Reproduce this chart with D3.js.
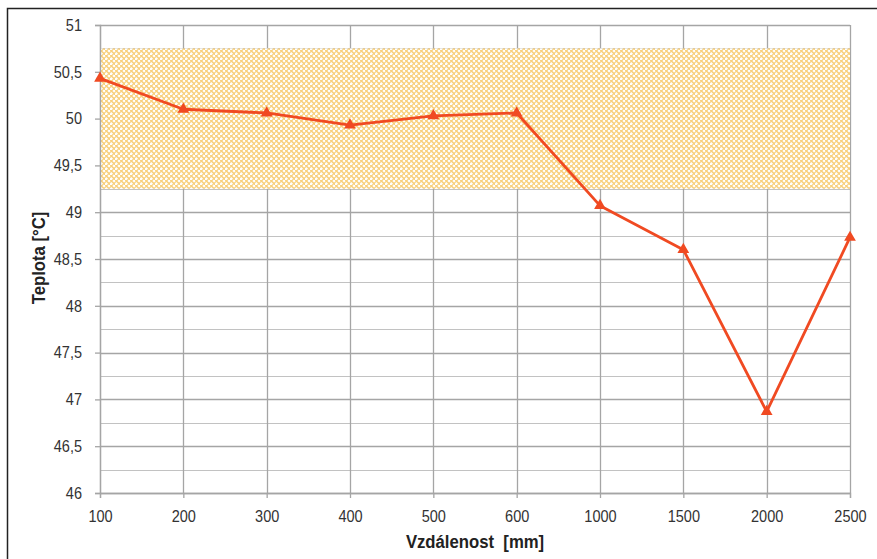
<!DOCTYPE html>
<html><head><meta charset="utf-8">
<script src="https://cdn.jsdelivr.net/npm/d3@7"></script>
<style>body{margin:0;background:#fff;}svg{display:block;font-family:"Liberation Sans",Arial,sans-serif;}</style>
</head><body>
<svg id="c" width="877" height="559"></svg>
<script>
const categories = ["100","200","300","400","500","600","1000","1500","2000","2500"];
const temperatures = [50.43, 50.10, 50.06, 49.93, 50.03, 50.06, 49.07, 48.60, 46.87, 48.73];
const yTicks = [46, 46.5, 47, 47.5, 48, 48.5, 49, 49.5, 50, 50.5, 51];
const yMinorTicks = [46.25, 46.75, 47.25, 47.75, 48.25, 48.75, 49.25, 49.75, 50.25, 50.75];
const band = [49.25, 50.75];
const xTitle = "Vzdálenost\u00a0\u00a0[mm]";
const yTitle = "Teplota [°C]";

const svg = d3.select("#c");
const m = {l:100, r:27, t:25, b:66};
const W = 877, H = 559;
const SX = 0.88;
const x = d3.scalePoint().domain(categories).range([m.l, W - m.r]).padding(0);
const y = d3.scaleLinear().domain([46, 51]).range([H - m.b, m.t]);

// outer frame
svg.append("rect").attr("x",7.5).attr("y",8.5).attr("width",880).attr("height",560)
  .attr("fill","none").attr("stroke","#222").attr("stroke-width",1.5);

const defs = svg.append("defs");
const pat = defs.append("pattern").attr("id","hatch").attr("patternUnits","userSpaceOnUse")
  .attr("width",5).attr("height",5);
pat.append("rect").attr("width",5).attr("height",5).attr("fill","#f8d07c");
pat.append("path").attr("d","M-1,6 L6,-1 M-3.5,3.5 L3.5,-3.5 M1.5,8.5 L8.5,1.5")
  .attr("stroke","#ffffff").attr("stroke-width",2.4).attr("stroke-dasharray","4.5,1.5");

const gridColor = "#a5a5a5";
svg.append("g").selectAll("line").data(yMinorTicks).join("line")
  .attr("x1",m.l).attr("x2",W-m.r).attr("y1",d=>Math.round(y(d))+0.5).attr("y2",d=>Math.round(y(d))+0.5)
  .attr("stroke","#c2c2c2").attr("stroke-width",1.2);
svg.append("g").selectAll("line").data(yTicks).join("line")
  .attr("x1",m.l).attr("x2",W-m.r).attr("y1",d=>Math.round(y(d))+0.5).attr("y2",d=>Math.round(y(d))+0.5)
  .attr("stroke",gridColor).attr("stroke-width",1.3);
svg.append("g").selectAll("line").data(categories).join("line")
  .attr("x1",d=>Math.round(x(d))+0.5).attr("x2",d=>Math.round(x(d))+0.5).attr("y1",m.t).attr("y2",H-m.b)
  .attr("stroke",gridColor).attr("stroke-width",1.3);

// band
svg.append("rect").attr("x",m.l).attr("width",W-m.r-m.l)
  .attr("y",y(band[1])).attr("height",y(band[0])-y(band[1]))
  .attr("fill","url(#hatch)");

// axes
const yAxis = svg.append("g").attr("transform",`translate(${m.l},0)`)
  .call(d3.axisLeft(y).tickValues(yTicks).tickSize(5).tickPadding(13)
    .tickFormat(d=>String(d).replace(".",",")));
const xAxis = svg.append("g").attr("transform",`translate(0,${H-m.b})`)
  .call(d3.axisBottom(x).tickSize(5).tickPadding(12));
[yAxis,xAxis].forEach(g=>{
  g.select(".domain").attr("stroke",gridColor).attr("stroke-width",1.3);
  g.selectAll(".tick line").attr("stroke",gridColor).attr("stroke-width",1.3);
  g.selectAll("text").attr("fill","#333").style("font-size","16.5px").style("font-family","'Liberation Sans',Arial,sans-serif");
});
yAxis.selectAll(".tick text").attr("x",-18/SX).attr("transform",`scale(${SX},1)`);
xAxis.selectAll(".tick text").attr("transform",`scale(${SX},1)`);

// line
const line = d3.line().x((d,i)=>x(categories[i])).y(d=>y(d));
svg.append("path").datum(temperatures).attr("d",line)
  .attr("fill","none").attr("stroke","#f04a22").attr("stroke-width",2.8).attr("stroke-linejoin","round");
svg.append("g").selectAll("path").data(temperatures).join("path")
  .attr("transform",(d,i)=>`translate(${x(categories[i])},${y(d)})`)
  .attr("d",d3.symbol().type(d3.symbolTriangle).size(60))
  .attr("fill","#f04a22");

// titles
svg.append("text").attr("transform",`translate(475,548) scale(${SX},1)`).attr("text-anchor","middle")
  .style("font-weight","bold").style("font-size","19px").attr("fill","#222").text(xTitle);
svg.append("text").attr("transform",`translate(45,258) rotate(-90) scale(${SX},1)`).attr("text-anchor","middle")
  .style("font-weight","bold").style("font-size","19px").attr("fill","#222").text(yTitle);
</script>
</body></html>
